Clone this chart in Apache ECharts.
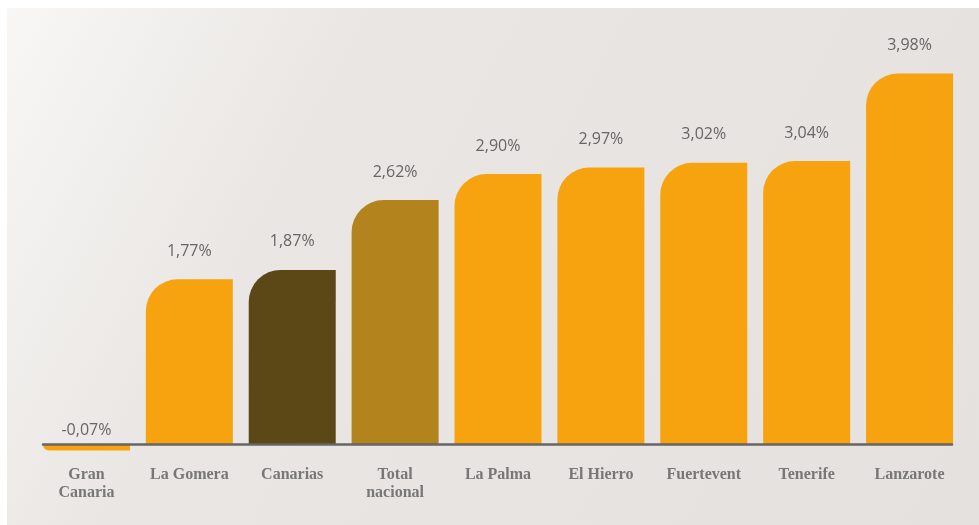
<!DOCTYPE html>
<html>
<head>
<meta charset="utf-8">
<script src="https://cdn.jsdelivr.net/npm/echarts@6/dist/echarts.min.js"></script>
<style>
  html, body { margin: 0; padding: 0; background: #ffffff; }
  #chart { position: absolute; left: 7px; top: 8px; width: 972px; height: 517px; }
</style>
</head>
<body>
<div id="chart"></div>
<script>
// categorias (islas) y valores en %
var categories = ['Gran\nCanaria', 'La Gomera', 'Canarias', 'Total\nnacional', 'La Palma', 'El Hierro', 'Fuertevent', 'Tenerife', 'Lanzarote'];
var values = [-0.07, 1.77, 1.87, 2.62, 2.90, 2.97, 3.02, 3.04, 3.98];
var barColors = ['#f6a30f', '#f6a30f', '#5c4716', '#b3841e', '#f6a30f', '#f6a30f', '#f6a30f', '#f6a30f', '#f6a30f'];

var chart = echarts.init(document.getElementById('chart'));

var seriesData = values.map(function (v, i) {
  var item = { value: v, itemStyle: { color: barColors[i] } };
  if (v < 0) {
    item.itemStyle.borderRadius = [0, 0, 0, 6];
    item.label = { distance: 6 };
  }
  return item;
});

chart.setOption({
  backgroundColor: new echarts.graphic.LinearGradient(0, 0, 1, 1, [
    { offset: 0, color: '#f8f7f5' },
    { offset: 0.3, color: '#e9e6e3' },
    { offset: 1, color: '#e5e1de' }
  ]),
  animation: false,
  grid: [
    { left: 28, right: 18, top: 63.6, bottom: 71.7 },
    // second grid only to draw the base line, which is shorter than the bar grid
    { left: 36, right: 27, top: 63.6, bottom: 71.7 }
  ],
  xAxis: [
    {
      type: 'category',
      gridIndex: 0,
      data: categories,
      axisLine: { show: false },
      axisTick: { show: false },
      axisLabel: {
        margin: 13,
        interval: 0,
        color: '#777777',
        fontFamily: 'Liberation Serif',
        fontWeight: 'bold',
        fontSize: 16,
        lineHeight: 18
      }
    },
    {
      type: 'category',
      gridIndex: 1,
      data: categories,
      z: 5,
      axisLine: {
        onZero: true,
        lineStyle: { color: '#666666', width: 2.5 }
      },
      axisTick: { show: false },
      axisLabel: { show: false }
    }
  ],
  yAxis: [
    { type: 'value', gridIndex: 0, min: -0.1, max: 4, show: false },
    { type: 'value', gridIndex: 1, min: -0.1, max: 4, show: false }
  ],
  series: [
    {
      type: 'bar',
      barWidth: 87,
      data: seriesData,
      itemStyle: {
        borderRadius: [32, 0, 0, 0]
      },
      label: {
        show: true,
        position: 'top',
        distance: 20,
        color: '#666666',
        fontFamily: 'Open Sans',
        fontSize: 16,
        formatter: function (p) {
          return p.value.toFixed(2).replace('.', ',') + '%';
        }
      }
    }
  ]
});
</script>
</body>
</html>
